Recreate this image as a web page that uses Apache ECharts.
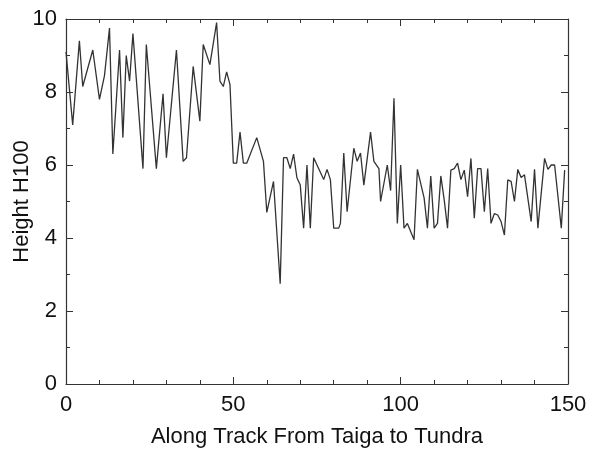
<!DOCTYPE html>
<html>
<head>
<meta charset="utf-8">
<script src="https://cdn.jsdelivr.net/npm/echarts@6/dist/echarts.min.js"></script>
<style>html,body{margin:0;padding:0;background:#fff;}#c{width:590px;height:453px;}</style>
</head>
<body>
<div id="c"></div>
<script>
// Track positions (x) and canopy height H100 (y)
var trackPos = [0, 2, 4, 5, 8, 10, 11.5, 13, 14, 16, 17, 18, 19, 20, 23, 24, 27, 29, 30, 33, 35, 36, 38, 40, 41, 43, 45, 46, 47, 48, 49, 50, 51, 52, 53, 54, 57, 59, 60, 62, 64, 65, 66, 67, 68, 69, 70, 71, 72, 73, 74, 75, 77, 78, 79, 80, 81.5, 82, 83, 84, 86, 87, 88, 89, 91, 92, 93.5, 94, 96, 97, 98, 99, 100, 101, 102, 104, 105, 107, 108, 109, 110, 111, 112, 113, 114, 115, 116, 117, 118, 119, 120, 121, 122, 123, 124, 125, 126, 127, 128, 129, 130, 131, 132, 133, 134, 135, 136, 137, 139, 140, 141, 143, 144, 145, 146, 148, 149];
var heightH100 = [9.1, 7.1, 9.4, 8.15, 9.15, 7.8, 8.45, 9.75, 6.3, 9.15, 6.75, 9.0, 8.3, 9.6, 5.9, 9.3, 5.9, 7.95, 6.2, 9.15, 6.1, 6.2, 8.7, 7.2, 9.3, 8.75, 9.9, 8.3, 8.15, 8.55, 8.2, 6.05, 6.05, 6.9, 6.05, 6.05, 6.75, 6.1, 4.7, 5.55, 2.75, 6.2, 6.2, 5.9, 6.3, 5.65, 5.45, 4.27, 6.0, 4.27, 6.2, 6.0, 5.6, 5.88, 5.6, 4.27, 4.27, 4.4, 6.33, 4.72, 6.46, 6.1, 6.33, 5.45, 6.9, 6.1, 5.9, 5.0, 6.0, 5.3, 7.83, 4.4, 6.0, 4.27, 4.4, 3.95, 5.88, 5.1, 4.27, 5.7, 4.27, 4.4, 5.7, 5.05, 4.27, 5.86, 5.9, 6.05, 5.6, 5.86, 5.13, 6.18, 4.54, 5.9, 5.9, 4.72, 5.9, 4.4, 4.67, 4.63, 4.45, 4.08, 5.59, 5.55, 5.0, 5.88, 5.66, 5.73, 4.45, 5.88, 4.27, 6.18, 5.88, 6.0, 6.0, 4.27, 5.86];
var xTicks = [0, 50, 100, 150];
var yTicks = [0, 2, 4, 6, 8, 10];

var data = trackPos.map(function (x, i) { return [x, heightH100[i]]; });
var font = 'Liberation Sans, Arial, sans-serif';
var axisCol = '#333';

var chart = echarts.init(document.getElementById('c'), null, {renderer: 'canvas'});
var baseX = {
  type: 'value', min: xTicks[0], max: xTicks[xTicks.length - 1], interval: 50,
  axisLine: {show: true, onZero: false, lineStyle: {color: axisCol, width: 1.2}},
  axisTick: {show: true, inside: true, length: 7, lineStyle: {color: axisCol}},
  minorTick: {show: true, splitNumber: 5, length: 4, lineStyle: {color: axisCol}},
  splitLine: {show: false}
};
var baseY = {
  type: 'value', min: yTicks[0], max: yTicks[yTicks.length - 1], interval: 2,
  axisLine: {show: true, onZero: false, lineStyle: {color: axisCol, width: 1.2}},
  axisTick: {show: true, inside: true, length: 7, lineStyle: {color: axisCol}},
  minorTick: {show: true, splitNumber: 2, length: 4, lineStyle: {color: axisCol}},
  splitLine: {show: false}
};
chart.setOption({
  animation: false,
  backgroundColor: '#fff',
  grid: {left: 66, right: 22, top: 19, bottom: 69, containLabel: false, outerBoundsMode: 'none'},
  xAxis: [
    Object.assign({}, baseX, {
      position: 'bottom',
      name: 'Along Track From Taiga to Tundra', nameLocation: 'middle', nameGap: 42,
      nameMoveOverlap: false,
      nameTextStyle: {fontFamily: font, fontSize: 22, color: '#111'},
      axisLabel: {show: true, margin: 10, fontFamily: font, fontSize: 22, color: '#111'}
    }),
    Object.assign({}, baseX, {position: 'top', axisLabel: {show: false}})
  ],
  yAxis: [
    Object.assign({}, baseY, {
      position: 'left',
      name: 'Height H100', nameLocation: 'middle', nameGap: 33, nameRotate: 90,
      nameMoveOverlap: false,
      nameTextStyle: {fontFamily: font, fontSize: 22, color: '#111'},
      axisLabel: {show: true, margin: 9, fontFamily: font, fontSize: 22, color: '#111'}
    }),
    Object.assign({}, baseY, {position: 'right', axisLabel: {show: false}})
  ],
  series: [{
    type: 'line', xAxisIndex: 0, yAxisIndex: 0,
    data: data, showSymbol: false, symbol: 'none',
    lineStyle: {color: '#333', width: 1.3}
  }]
});
</script>
</body>
</html>
